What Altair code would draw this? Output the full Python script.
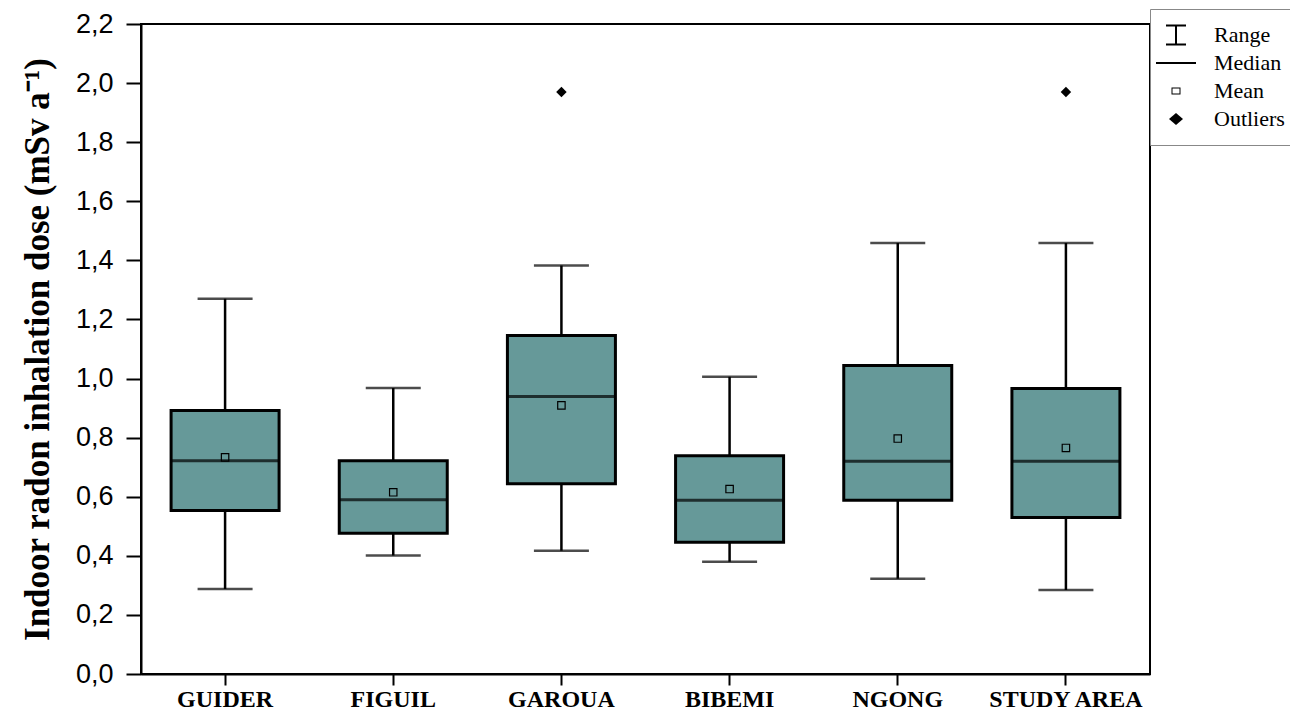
import altair as alt
import pandas as pd

categories = ["GUIDER", "FIGUIL", "GAROUA", "BIBEMI", "NGONG", "STUDY AREA"]
whisker_low = [0.288, 0.401, 0.417, 0.380, 0.322, 0.284]
q1 = [0.553, 0.476, 0.644, 0.446, 0.588, 0.530]
median = [0.722, 0.590, 0.939, 0.588, 0.720, 0.720]
q3 = [0.892, 0.722, 1.146, 0.739, 1.044, 0.966]
whisker_high = [1.270, 0.968, 1.383, 1.006, 1.459, 1.459]
mean = [0.733, 0.615, 0.909, 0.626, 0.797, 0.765]
outlier_cats = ["GAROUA", "STUDY AREA"]
outlier_vals = [1.970, 1.970]
legend_items = ["Range", "Median", "Mean", "Outliers"]
legend_shapes = [
    "M-1,-1.05H1V-0.85H0.1V0.85H1V1.05H-1V0.85H-0.1V-0.85H-1Z",
    "M-2,-0.1H2V0.1H-2Z",
    "M-0.45,-0.35H0.45V0.35H-0.45Z M-0.35,-0.25V0.25H0.35V-0.25Z",
    "M0,-0.6L0.7,0L0,0.6L-0.7,0Z",
]
y_ticks = [round(i / 10, 1) for i in range(23)]

df = pd.DataFrame({
    "cat": categories, "lo": whisker_low, "q1": q1, "med": median,
    "q3": q3, "hi": whisker_high, "mean": mean,
})
df_out = pd.DataFrame({"cat": outlier_cats, "val": outlier_vals})
df_leg = pd.DataFrame({"item": legend_items, "cat": [categories[0]] * 4, "val": [0.0] * 4})

teal = "#669999"

xenc = alt.X(
    "cat:N", sort=categories, title=None,
    scale=alt.Scale(domain=categories, paddingInner=0, paddingOuter=0),
    axis=alt.Axis(labelAngle=0, labelFont="Liberation Serif", labelFontWeight="bold",
                  labelFontSize=24, labelColor="black", tickSize=11, tickWidth=2,
                  tickColor="black", domainColor="black", domainWidth=2, labelPadding=2),
)
yscale = alt.Scale(domain=[0, 2.2], nice=False, zero=False)
yaxis = alt.Axis(
    values=y_ticks,
    labelExpr="round(datum.value*10)%2===0 ? replace(format(datum.value,'.1f'),'.',',') : ''",
    tickSize={"condition": {"test": "round(datum.value*10)%2===0", "value": 15}, "value": 8},
    tickWidth=2, tickColor="black", domainColor="black", domainWidth=2,
    labelFont="Liberation Sans", labelFontSize=27, labelColor="black", labelPadding=13,
    title="Indoor radon inhalation dose (mSv a⁻¹)", titleFont="Liberation Serif",
    titleFontWeight="bold", titleFontSize=35, titleColor="black", titlePadding=20,
    grid=False,
)

base = alt.Chart(df)

whisk = base.mark_rule(color="black", strokeWidth=2.5).encode(
    x=xenc, y=alt.Y("lo:Q", scale=yscale, axis=yaxis), y2="hi:Q")
caps_lo = base.mark_tick(color="black", size=55, thickness=2.5).encode(x=xenc, y=alt.Y("lo:Q", scale=yscale))
caps_hi = base.mark_tick(color="black", size=55, thickness=2.5).encode(x=xenc, y=alt.Y("hi:Q", scale=yscale))
box = base.mark_bar(size=108, fill=teal, stroke="black", strokeWidth=3).encode(
    x=xenc, y=alt.Y("q1:Q", scale=yscale), y2="q3:Q")
med = base.mark_tick(color="black", size=108, thickness=3).encode(x=xenc, y=alt.Y("med:Q", scale=yscale))
mn = base.mark_point(shape="square", filled=False, size=55, stroke="black", strokeWidth=1.2, opacity=1).encode(
    x=xenc, y=alt.Y("mean:Q", scale=yscale))
outl = alt.Chart(df_out).mark_point(shape="diamond", filled=True, size=110, color="black", opacity=1).encode(
    x=xenc, y=alt.Y("val:Q", scale=yscale))

leg = alt.Chart(df_leg).mark_point(size=400, filled=True, color="black", opacity=0).encode(
    x=xenc, y=alt.Y("val:Q", scale=yscale),
    shape=alt.Shape(
        "item:N", scale=alt.Scale(domain=legend_items, range=legend_shapes),
        legend=alt.Legend(
            title=None, orient="none", legendX=1009, legendY=-15, padding=15, rowPadding=6,
            labelFont="Liberation Serif", labelFontSize=22, labelColor="black", labelOffset=27,
            symbolSize=400, symbolFillColor="black", symbolStrokeWidth=0, symbolOpacity=1,
            strokeColor="#888888", fillColor="white",
        ),
    ),
)

chart = alt.layer(whisk, caps_lo, caps_hi, box, med, mn, outl, leg).properties(
    width=1009, height=650,
    autosize=alt.AutoSizeParams(type="none"),
    padding={"left": 133, "top": 16, "right": 140, "bottom": 37},
).configure_view(stroke="black", strokeWidth=2)

chart.save("out.html", embed_options={"renderer": "svg", "actions": False})
